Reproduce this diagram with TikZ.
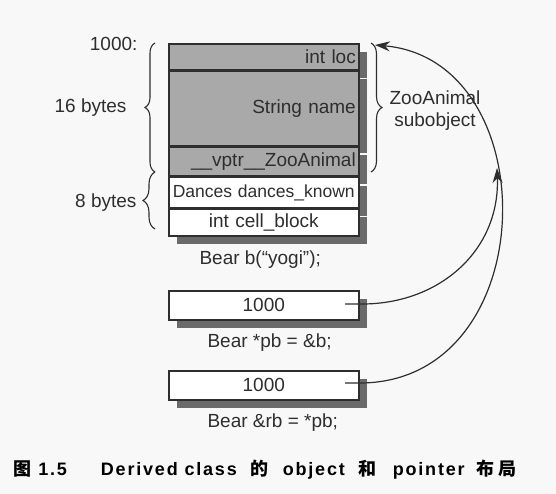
\documentclass[tikz,border=0pt]{standalone}
\usepackage{fontspec}
\setmainfont{Liberation Sans}
\newfontfamily\cjk{Noto Sans CJK SC}
\usetikzlibrary{arrows.meta,decorations.pathreplacing,shadows}
\definecolor{ink}{HTML}{2E2E2E}
\definecolor{zoogray}{HTML}{A9A9A9}
\definecolor{shade}{HTML}{6A6A6A}
\definecolor{paper}{HTML}{F8F8F8}

\tikzset{
  cell/.style={draw=ink, line width=1.6pt, minimum width=190pt, text width=184pt,
    inner xsep=3pt, inner ysep=0pt, anchor=north west, text=ink,
    font=\fontsize{19}{20}\selectfont,
    drop shadow={shadow xshift=8pt, shadow yshift=-8pt, fill=shade, draw=none, opacity=1}},
  zoocell/.style={cell, fill=zoogray, align=right},
  bearcell/.style={cell, fill=white, align=center},
  curly/.style={decorate, decoration={brace, amplitude=#1}, ink, line width=1.1pt},
  tag/.style={text=ink, font=\fontsize{19}{22}\selectfont},
  ptr/.style={ink, line width=1.2pt, -{Stealth[length=15pt,width=10pt]}}
}

\begin{document}
\begin{tikzpicture}[x=1pt,y=-1pt]
	\fill[paper] (0,0) rectangle (556,494);
	\useasboundingbox (0,0) rectangle (556,494);
	% object b
	\node[zoocell, minimum height=26pt] (loc) at (168,43) {int loc};
	\node[zoocell, minimum height=74pt] (name) at (loc.south west) {String name};
	\node[zoocell, minimum height=29pt] (vptr) at (name.south west) {\_\_vptr\_\_ZooAnimal};
	\node[bearcell, minimum height=30pt, font=\fontsize{17.5}{18}\selectfont] (dances) at (vptr.south west) {Dances dances\_known};
	\node[bearcell, minimum height=27pt] (block) at (dances.south west) {int cell\_block};
	% braces
	\draw[curly=10pt] (155,172) -- (155,43);
	\draw[curly=12pt] (155,229) -- (155,172);
	\draw[curly=11pt] (371,43) -- (371,172);
	\node[tag, anchor=east] (addr) at (141,44) {1000:};
	\node[tag, anchor=east] (sixteen) at (130,108) {16 bytes};
	\node[tag, anchor=east] (eight) at (140,203) {8 bytes};
	\node[tag, align=center] (sub) at (435,111) {ZooAnimal\\subobject};
	\node[tag, anchor=west] (bdecl) at (196,260) {Bear b(“yogi”);};
	% pointer and reference
	\foreach \nm/\yy in {pb/290, rb/370}
		\node[bearcell, minimum height=29pt] (\nm) at (168,\yy) {1000};
	\node[tag, anchor=west] (pbdecl) at (204,343) {Bear *pb = \&b;};
	\node[tag, anchor=west] (rbdecl) at (204,423) {Bear \&rb = *pb;};
	\coordinate (pbin) at (345,304);
	\coordinate (rbin) at (345,383);
	\coordinate (bmid) at (497,168);
	\coordinate (btop) at (375,45);
	\draw[ptr] (pbin) -- ++(17,0) .. controls +(78,0) and +(3,82) .. (bmid);
	\draw[ptr] (rbin) -- ++(17,0) .. controls +(182,-3) and +(172,15) .. (btop);
	% caption
	\node[anchor=west, text=black, font=\fontsize{18}{20}\selectfont\bfseries\addfontfeatures{LetterSpace=10}] (caption) at (10,470)
		{{\cjk 图} 1.5\hspace{34pt}Derived class\hspace{14pt}{\cjk 的}\hspace{14pt}object\hspace{14pt}{\cjk 和}\hspace{16pt}pointer\hspace{12pt}{\cjk 布\hspace{4pt}局}};
\end{tikzpicture}
\end{document}
